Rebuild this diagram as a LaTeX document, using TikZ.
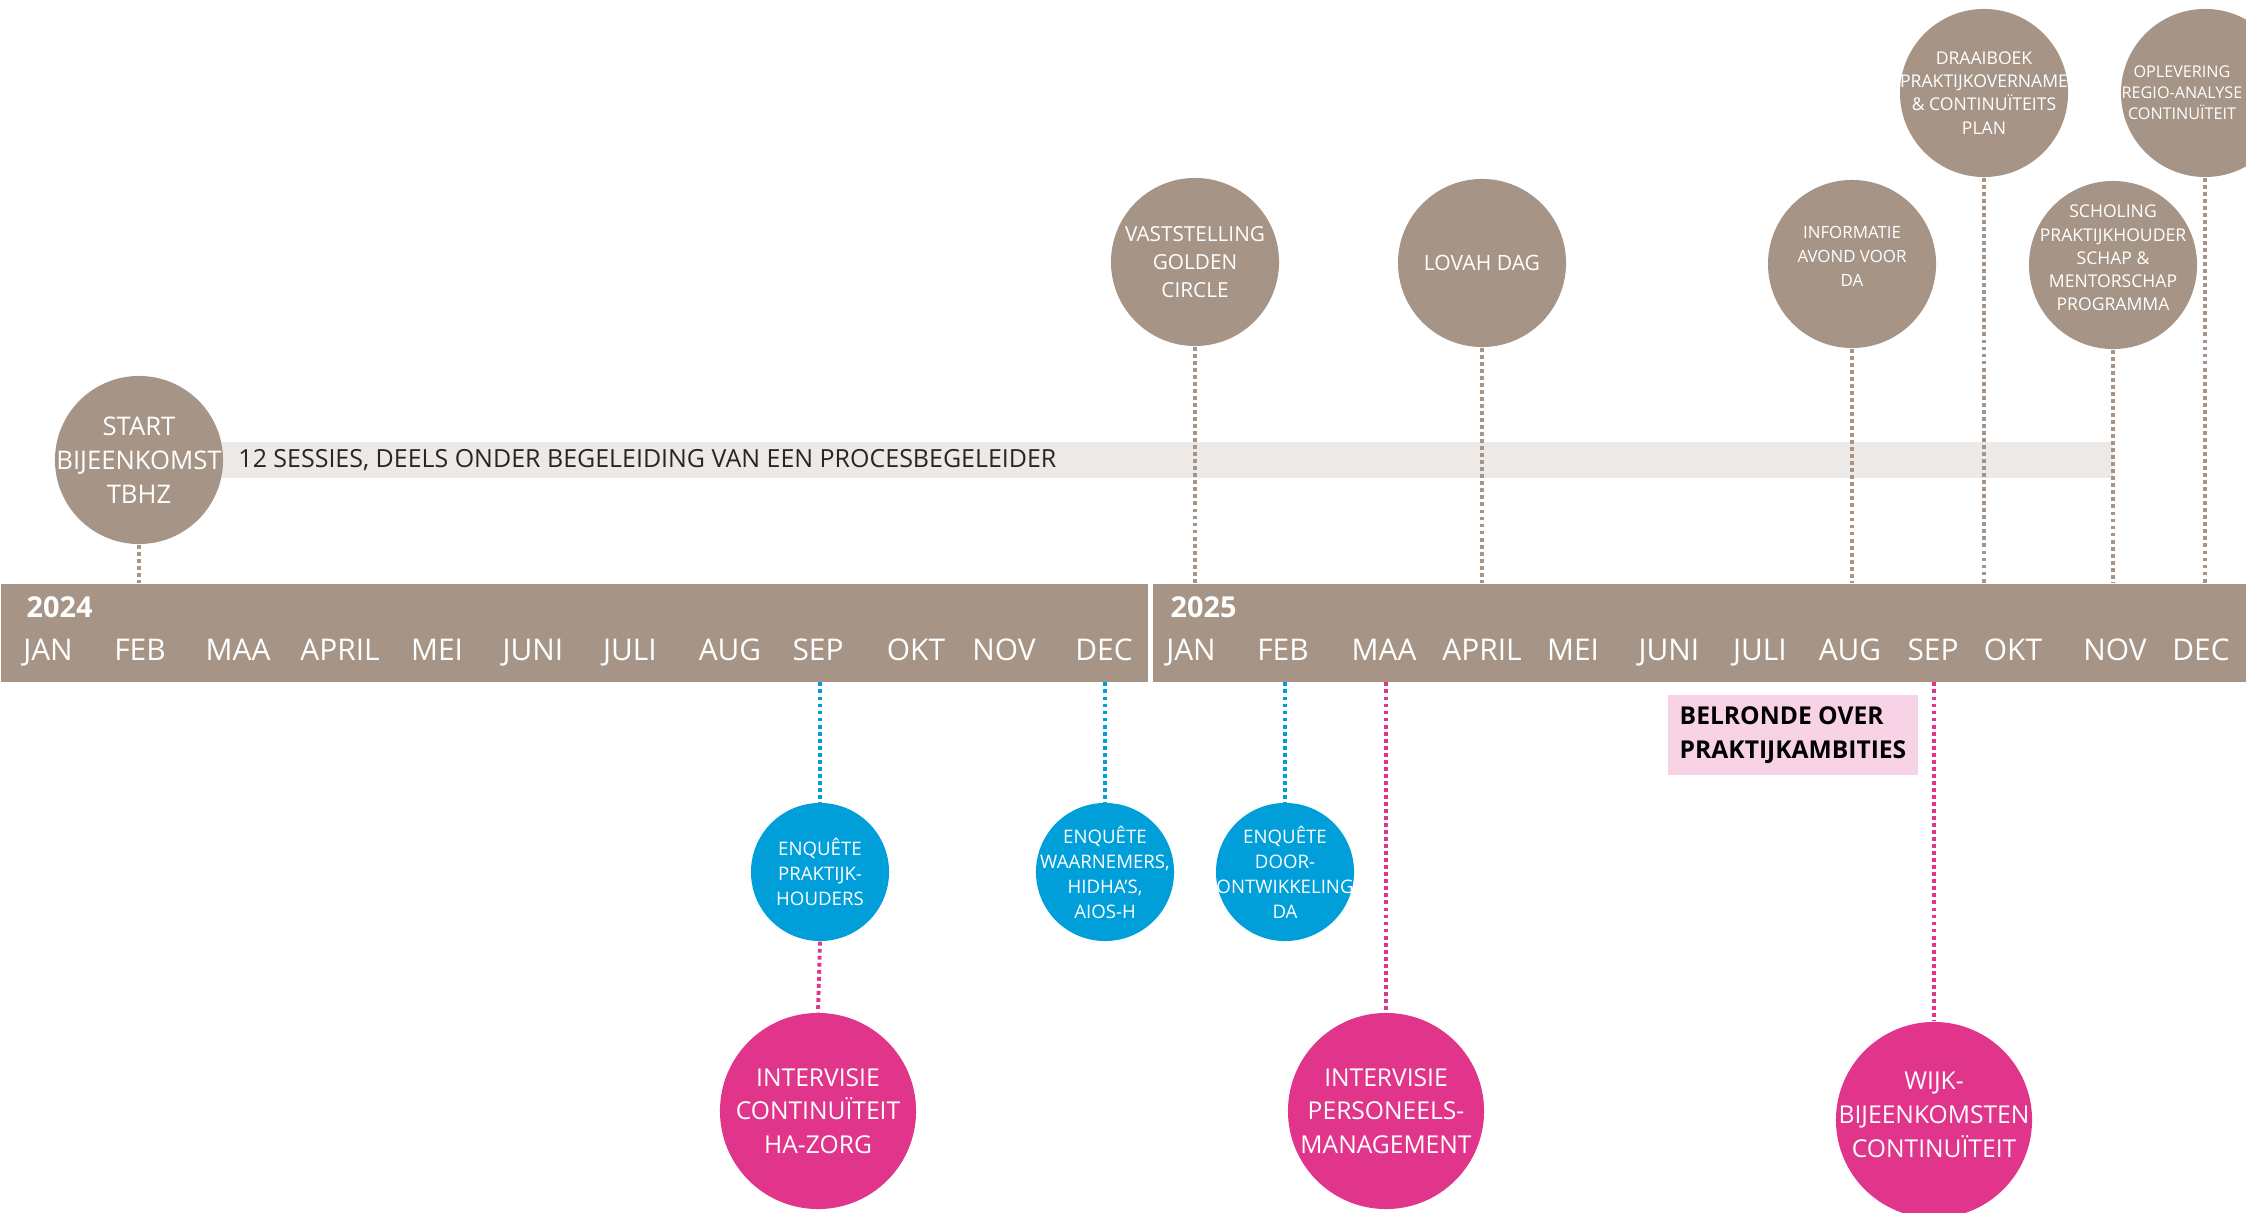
\documentclass[tikz,border=0pt]{standalone}
\usepackage{fontspec}
\setmainfont{Open Sans}
\usetikzlibrary{positioning}

\definecolor{taupe}{RGB}{166,149,134}
\definecolor{bandgrey}{RGB}{237,233,230}
\definecolor{enqblue}{RGB}{0,159,218}
\definecolor{intpink}{RGB}{224,53,138}
\definecolor{callpink}{RGB}{247,211,229}

\begin{document}
\begin{tikzpicture}[x=0.01cm, y=-0.01cm,
  bar/.style={fill=taupe, minimum height=0.98cm, inner sep=0, anchor=north west},
  yearlbl/.style={text=white, font=\fontsize{8.2}{10}\selectfont\bfseries, anchor=base west, inner sep=0},
  month/.style={text=white, font=\fontsize{8.5}{10}\selectfont, anchor=base, inner sep=0},
  topev/.style={circle, fill=taupe, minimum size=1.68cm, inner sep=0},
  blueev/.style={circle, fill=enqblue, minimum size=1.38cm, inner sep=0},
  pinkev/.style={circle, fill=intpink, minimum size=1.96cm, inner sep=0},
  evtxt/.style={text=white, align=center, inner sep=0},
  greydots/.style={draw=taupe, line width=1.1pt, dash pattern=on 1.1pt off 0.9pt},
  bluedots/.style={greydots, draw=enqblue},
  pinkdots/.style={greydots, draw=intpink},
  callbox/.style={fill=callpink, minimum width=2.49cm, minimum height=0.79cm, inner sep=0,
    align=left, font=\fontsize{7}{9.6}\selectfont\bfseries},
]

\useasboundingbox (0,0) rectangle (2246,1213);
\clip (0,0) rectangle (2246,1213);

% Sessions band
\fill[bandgrey] (139,442) rectangle (2113,478);

% Timeline
\node[bar, minimum width=11.47cm] (bar24) at (0,583) {};
\node[bar, minimum width=10.94cm] (bar25) at (1152,583) {};
\node[yearlbl] (y24) at (26,617) {2024};
\node[yearlbl] (y25) at (1170,617) {2025};
\foreach \x/\m [count=\i] in {48/JAN, 140/FEB, 238/MAA, 340/APRIL, 437/MEI, 533/JUNI,
    630/JULI, 730/AUG, 818/SEP, 916/OKT, 1004/NOV, 1104/DEC}
  \node[month] (a\i) at (\x,660) {\m};
\foreach \x/\m [count=\i] in {1191/JAN, 1283/FEB, 1384/MAA, 1482/APRIL, 1573/MEI, 1669/JUNI,
    1760/JULI, 1850/AUG, 1933/SEP, 2013/OKT, 2115/NOV, 2201/DEC}
  \node[month] (b\i) at (\x,660) {\m};

% Milestones above
\node[topev, label={[evtxt, font=\fontsize{7.3}{9.6}\selectfont]center:{START\\BIJEENKOMST\\TBHZ}}] (start) at (139,460) {};
\node[topev, label={[evtxt, font=\fontsize{5.9}{7.9}\selectfont]center:{VASTSTELLING\\GOLDEN\\CIRCLE}}] (vast) at (1195,262) {};
\node[topev, label={[evtxt, font=\fontsize{6}{7.9}\selectfont]center:{LOVAH DAG}}] (lovah) at (1482,263) {};
\node[topev, label={[evtxt, font=\fontsize{4.8}{6.8}\selectfont, yshift=0.08cm]center:{INFORMATIE\\AVOND VOOR\\DA}}] (info) at (1852,264) {};
\node[topev, label={[evtxt, font=\fontsize{5}{6.6}\selectfont]center:{DRAAIBOEK\\PRAKTIJKOVERNAME\\\&~CONTINUÏTEITS\\PLAN}}] (draai) at (1984,93) {};
\node[topev, label={[evtxt, font=\fontsize{5}{6.6}\selectfont, yshift=0.07cm]center:{SCHOLING\\PRAKTIJKHOUDER\\SCHAP \&\\MENTORSCHAP\\PROGRAMMA}}] (schol) at (2113,265) {};
\node[topev, label={[evtxt, font=\fontsize{4.6}{6}\selectfont, xshift=-0.23cm]center:{OPLEVERING\\REGIO-ANALYSE\\CONTINUÏTEIT}}] (oplev) at (2205,93) {};

\node[right=0.14cm of start, inner sep=0, text=black!85, font=\fontsize{7.1}{9}\selectfont] (sess)
  {12 SESSIES, DEELS ONDER BEGELEIDING VAN EEN PROCESBEGELEIDER};

% Enquetes below
\node[blueev, label={[evtxt, font=\fontsize{5.3}{7.1}\selectfont]center:{ENQUÊTE\\PRAKTIJK-\\HOUDERS}}] (enqph) at (820,872) {};
\node[blueev, label={[evtxt, font=\fontsize{5.3}{7.1}\selectfont]center:{ENQUÊTE\\WAARNEMERS,\\HIDHA'S,\\AIOS-H}}] (enqwn) at (1105,872) {};
\node[blueev, label={[evtxt, font=\fontsize{5.3}{7.1}\selectfont]center:{ENQUÊTE\\DOOR-\\ONTWIKKELING\\DA}}] (enqda) at (1285,872) {};

% Intervisie and wijk
\node[pinkev, label={[evtxt, font=\fontsize{7}{9.6}\selectfont]center:{INTERVISIE\\CONTINUÏTEIT\\HA-ZORG}}] (intha) at (818,1111) {};
\node[pinkev, label={[evtxt, font=\fontsize{7}{9.6}\selectfont]center:{INTERVISIE\\PERSONEELS-\\MANAGEMENT}}] (intpm) at (1386,1111) {};
\node[pinkev, label={[evtxt, font=\fontsize{7}{9.6}\selectfont, yshift=0.05cm]center:{WIJK-\\BIJEENKOMSTEN\\CONTINUÏTEIT}}] (wijk) at (1934,1120) {};

\node[callbox] (bel) at (1793,735) {BELRONDE OVER\\PRAKTIJKAMBITIES};

% Dotted connectors
\draw[greydots] (start.south) -- (start |- bar24.north);
\foreach \n in {vast, lovah, info, draai, schol, oplev}
  \draw[greydots] (\n.south) -- (\n |- bar25.north);
\draw[bluedots] (enqph |- bar24.south) -- (enqph.north);
\draw[bluedots] (enqwn |- bar24.south) -- (enqwn.north);
\draw[bluedots] (enqda |- bar25.south) -- (enqda.north);
\draw[pinkdots] (enqph.south) -- (intha.north);
\draw[pinkdots] (intpm |- bar25.south) -- (intpm.north);
\draw[pinkdots] (wijk |- bar25.south) -- (wijk.north);

\end{tikzpicture}
\end{document}
